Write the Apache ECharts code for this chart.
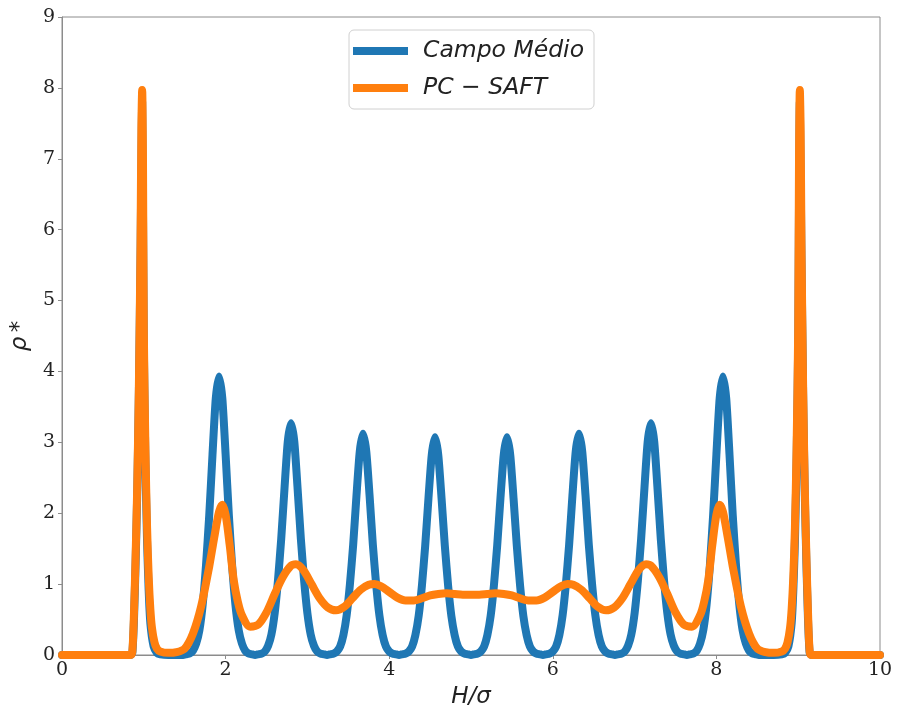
<!DOCTYPE html>
<html>
<head>
<meta charset="utf-8">
<script src="https://cdn.jsdelivr.net/npm/echarts@6/dist/echarts.min.js"></script>
<style>
html,body{margin:0;padding:0;background:#fff;}
#chart{width:902px;height:712px;}
</style>
</head>
<body>
<div id="chart"></div>
<script>
// Series names
const seriesNames = ['Campo Médio', 'PC − SAFT'];

// Campo Médio (blue) sample positions and values
const blueX = [
  0, 0.4, 0.8, 0.84, 0.86, 0.88, 0.9, 0.92, 0.94, 0.96, 0.98, 1.0, 1.02, 1.04, 1.06, 1.08, 1.12, 1.16, 1.2, 1.3, 1.4,
  1.48,1.52,1.56,1.6,1.64,1.68,1.72,1.76,1.8,1.84,1.88,1.92,1.96,2,2.04,2.08,2.12,2.16,2.2,2.24,2.28,2.32,2.36,
  2.4,2.44,2.48,2.52,2.56,2.6,2.64,2.68,2.72,2.76,2.8,2.84,2.88,2.92,2.96,3,3.04,3.08,3.12,3.16,3.2,3.24,
  3.28,3.32,3.36,3.4,3.44,3.48,3.52,3.56,3.6,3.64,3.68,3.72,3.76,3.8,3.84,3.88,3.92,3.96,4,4.04,4.08,4.12,
  4.16,4.2,4.24,4.28,4.32,4.36,4.4,4.44,4.48,4.52,4.56,4.6,4.64,4.68,4.72,4.76,4.8,4.84,4.88,4.92,4.96,5,
  5.04,5.08,5.12,5.16,5.2,5.24,5.28,5.32,5.36,5.4,5.44,5.48,5.52,5.56,5.6,5.64,5.68,5.72,5.76,5.8,5.84,5.88,
  5.92,5.96,6,6.04,6.08,6.12,6.16,6.2,6.24,6.28,6.32,6.36,6.4,6.44,6.48,6.52,6.56,6.6,6.64,6.68,6.72,6.76,
  6.8,6.84,6.88,6.92,6.96,7,7.04,7.08,7.12,7.16,7.2,7.24,7.28,7.32,7.36,7.4,7.44,7.48,7.52,7.56,7.6,7.64,
  7.68,7.72,7.76,7.8,7.84,7.88,7.92,7.96,8,8.04,8.08,8.12,8.16,8.2,8.24,8.28,8.32,8.36,8.4,8.44,8.48,8.52,
  8.6, 8.7, 8.8, 8.84, 8.88, 8.92, 8.94, 8.96, 8.98, 9.0, 9.02, 9.04, 9.06, 9.08, 9.1, 9.12, 9.14, 9.16, 9.2, 9.6, 10
];
const blueY = [
  0, 0, 0, 0, 0.03, 0.5, 1.3, 2.3, 3.7, 5.6, 7.8, 4.4, 2.7, 1.6, 0.9, 0.45, 0.12, 0.03, 0.01, 0, 0,
  0,0.01,0.02,0.06,0.16,0.35,0.71,1.26,1.97,2.83,3.62,3.93,3.62,2.83,1.97,1.26,0.71,0.35,0.16,0.06,0.02,0.01,0,
  0.01,0.02,0.05,0.13,0.29,0.59,1.05,1.64,2.35,3.01,3.27,3.01,2.35,1.64,1.05,0.59,0.29,0.13,0.05,0.02,0.01,0,
  0.01,0.02,0.05,0.12,0.28,0.56,1.00,1.56,2.25,2.87,3.12,2.87,2.25,1.56,1.00,0.56,0.28,0.12,0.05,0.02,0.01,0,
  0.01,0.02,0.05,0.12,0.28,0.55,0.98,1.54,2.21,2.82,3.07,2.82,2.21,1.54,0.98,0.55,0.28,0.12,0.05,0.02,0.01,0,
  0.01,0.02,0.05,0.12,0.28,0.55,0.98,1.54,2.21,2.82,3.07,2.82,2.21,1.54,0.98,0.55,0.28,0.12,0.05,0.02,0.01,0,
  0.01,0.02,0.05,0.12,0.28,0.56,1.00,1.56,2.25,2.87,3.12,2.87,2.25,1.56,1.00,0.56,0.28,0.12,0.05,0.02,0.01,0,
  0.01,0.02,0.05,0.13,0.29,0.59,1.05,1.64,2.35,3.01,3.27,3.01,2.35,1.64,1.05,0.59,0.29,0.13,0.05,0.02,0.01,0,
  0.01,0.02,0.06,0.16,0.35,0.71,1.26,1.97,2.83,3.62,3.93,3.62,2.83,1.97,1.26,0.71,0.35,0.16,0.06,0.02,0.01,0,
  0, 0, 0.01, 0.03, 0.12, 0.45, 0.9, 1.6, 2.7, 4.4, 7.8, 5.6, 3.7, 2.3, 1.3, 0.5, 0.03, 0, 0, 0, 0
];

// PC − SAFT (orange) sample positions and values
const orangeX = [
  0, 0.5, 0.84, 0.86, 0.88, 0.9, 0.92, 0.94, 0.96, 0.97, 0.98, 0.99, 1.0, 1.02, 1.04, 1.06, 1.08, 1.1, 1.13, 1.16,
  1.2, 1.3, 1.4, 1.5, 1.6, 1.7, 1.8, 1.86, 1.92, 1.96, 2.0, 2.05, 2.1, 2.15, 2.2, 2.3, 2.4, 2.5, 2.6, 2.7,
  2.8, 2.86, 2.95, 3.05, 3.15, 3.25, 3.35, 3.45, 3.55, 3.65, 3.75, 3.82, 3.9, 4.0, 4.1, 4.2, 4.3, 4.4, 4.5, 4.6,
  4.7, 4.8, 4.9, 5.0, 5.1, 5.2, 5.3, 5.4, 5.5, 5.6, 5.7, 5.8, 5.9, 6.0, 6.1, 6.18, 6.25, 6.35, 6.45, 6.55,
  6.65, 6.75, 6.85, 6.95, 7.05, 7.14, 7.2, 7.3, 7.4, 7.5, 7.6, 7.7, 7.8, 7.85, 7.9, 7.95, 8.0, 8.04, 8.08, 8.14,
  8.2, 8.3, 8.4, 8.5, 8.6, 8.7, 8.8, 8.84, 8.87, 8.9, 8.92, 8.94, 8.96, 8.98, 9.0, 9.01, 9.02, 9.03, 9.04, 9.06,
  9.08, 9.1, 9.12, 9.14, 9.16, 9.5, 10
];
const orangeY = [
  0, 0, 0, 0.05, 0.6, 1.4, 2.4, 3.8, 5.8, 7.4, 7.97, 7.0, 4.6, 2.9, 1.8, 1.1, 0.65, 0.38, 0.18, 0.09,
  0.05, 0.03, 0.04, 0.09, 0.3, 0.68, 1.25, 1.65, 2.02, 2.12, 1.98, 1.55, 1.05, 0.75, 0.56, 0.4, 0.43, 0.6, 0.86, 1.1,
  1.26, 1.28, 1.2, 1.0, 0.8, 0.67, 0.63, 0.68, 0.8, 0.92, 0.99, 1.0, 0.97, 0.89, 0.81, 0.77, 0.77, 0.8, 0.84, 0.86,
  0.87, 0.86, 0.85, 0.85, 0.85, 0.86, 0.87, 0.86, 0.84, 0.8, 0.77, 0.77, 0.81, 0.89, 0.97, 1.0, 0.99, 0.92, 0.8, 0.68,
  0.63, 0.67, 0.8, 1.0, 1.2, 1.28, 1.26, 1.1, 0.86, 0.6, 0.43, 0.4, 0.56, 0.75, 1.05, 1.55, 1.98, 2.12, 2.02, 1.65,
  1.25, 0.68, 0.3, 0.09, 0.04, 0.03, 0.05, 0.09, 0.18, 0.38, 0.65, 1.1, 1.8, 2.9, 4.6, 7.0, 7.97, 7.4, 5.8, 3.8,
  2.4, 1.4, 0.6, 0.05, 0, 0, 0
];

const xAxisRange = [0, 10, 2];
const yAxisRange = [0, 9, 1];

const chart = echarts.init(document.getElementById('chart'), null, {renderer: 'canvas'});

const axisColor = '#8c8c8c';
const tickFont = {fontFamily: 'DejaVu Serif', fontSize: 19, color: '#222'};
const nameFont = {fontFamily: 'DejaVu Sans', fontStyle: 'italic', fontSize: 23, color: '#222'};

const option = {
  animation: false,
  backgroundColor: '#ffffff',
  grid: {
    left: 62, right: 22, top: 17, bottom: 57,
    show: true, borderColor: axisColor, borderWidth: 1,
    containLabel: false, outerBoundsMode: 'none'
  },
  legend: {
    orient: 'vertical',
    left: 349, top: 30,
    padding: [8, 10, 8, 4],
    itemWidth: 55, itemHeight: 8, itemGap: 11,
    icon: 'rect',
    borderColor: '#d0d0d0', borderWidth: 1, borderRadius: 5,
    backgroundColor: 'rgba(255,255,255,0.85)',
    textStyle: {fontFamily: 'DejaVu Sans', fontStyle: 'italic', fontSize: 23.5, color: '#222', lineHeight: 26, padding: [0, 0, 0, 10]},
    data: seriesNames
  },
  xAxis: {
    type: 'value', min: xAxisRange[0], max: xAxisRange[1], interval: xAxisRange[2],
    name: 'H/σ', nameLocation: 'middle', nameGap: 31, nameTextStyle: nameFont,
    axisLine: {show: true, lineStyle: {color: axisColor, width: 1}},
    axisTick: {show: true, length: 4, lineStyle: {color: axisColor}},
    axisLabel: Object.assign({margin: 6}, tickFont),
    splitLine: {show: false}
  },
  yAxis: {
    type: 'value', min: yAxisRange[0], max: yAxisRange[1], interval: yAxisRange[2],
    name: 'ρ\u2009*', nameLocation: 'middle', nameGap: 26, nameTextStyle: nameFont,
    axisLine: {show: true, lineStyle: {color: axisColor, width: 1}},
    axisTick: {show: true, length: 4, lineStyle: {color: axisColor}},
    axisLabel: Object.assign({margin: 7}, tickFont),
    splitLine: {show: false}
  },
  series: [
    {
      name: seriesNames[0], type: 'line',
      data: blueX.map((x, i) => [x, blueY[i]]),
      showSymbol: false, symbol: 'none', smooth: 0.2,
      lineStyle: {width: 8, color: '#1f77b4', cap: 'round', join: 'round'},
      itemStyle: {color: '#1f77b4'},
      z: 2
    },
    {
      name: seriesNames[1], type: 'line',
      data: orangeX.map((x, i) => [x, orangeY[i]]),
      showSymbol: false, symbol: 'none', smooth: 0.3,
      lineStyle: {width: 8, color: '#ff7f0e', cap: 'round', join: 'round'},
      itemStyle: {color: '#ff7f0e'},
      z: 3
    }
  ]
};
chart.setOption(option);
</script>
</body>
</html>
